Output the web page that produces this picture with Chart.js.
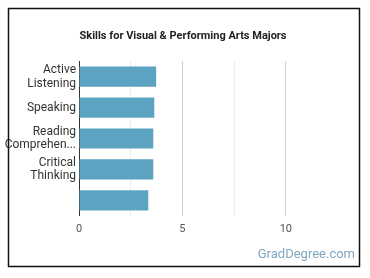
<!DOCTYPE html>
<html>
<head>
<meta charset="utf-8">
<script src="https://cdn.jsdelivr.net/npm/chart.js@4"></script>
<style>
  body { margin: 0; background: #fff; }
  #wrap { width: 370px; height: 278px; position: relative; }
</style>
</head>
<body>
<div id="wrap"><canvas id="myChart" width="370" height="278"></canvas></div>
<script>
const chartTitle = 'Skills for Visual & Performing Arts Majors';
const skillLabels = [['Active', 'Listening'], 'Speaking', ['Reading', 'Comprehen...'], ['Critical', 'Thinking'], ''];
const skillValues = [3.73, 3.64, 3.59, 3.59, 3.35];
const tickValues = [0, 5, 10];

const barColor = '#5ca3c1';

// frame round the whole chart + site name in the corner
const framePlugin = {
  id: 'frame',
  afterDraw(chart) {
    const c = chart.ctx;
    c.save();
    c.strokeStyle = '#111';
    c.lineWidth = 1.5;
    c.strokeRect(8.5, 8.5, 351, 258);
    c.fillStyle = '#7fa7c2';
    c.font = '13px Roboto';
    c.textAlign = 'right';
    c.textBaseline = 'middle';
    c.fillText('GradDegree.com', 355, 255);
    c.restore();
  }
};

const ctx = document.getElementById('myChart').getContext('2d');
const myChart = new Chart(ctx, {
  type: 'bar',
  data: {
    labels: skillLabels,
    datasets: [{
      data: skillValues,
      backgroundColor: barColor,
      borderWidth: 0,
      barPercentage: 0.65,
      categoryPercentage: 1
    }]
  },
  options: {
    indexAxis: 'y',
    responsive: false,
    animation: false,
    layout: { padding: { left: 0, right: 4, top: 0, bottom: 35 } },
    plugins: {
      legend: { display: false },
      tooltip: { enabled: false },
      title: {
        display: true,
        text: chartTitle,
        color: '#222',
        font: { family: 'Roboto', size: 11, weight: 'bold' },
        padding: { top: 30, bottom: 18 }
      }
    },
    scales: {
      x: {
        min: 0,
        max: 13.73,
        border: { display: false },
        grid: {
          drawTicks: false,
          color: (c) => {
            const v = c.tick ? c.tick.value : 0;
            if (v === 0 || v > 10) return 'rgba(0,0,0,0)';
            return tickValues.includes(v) ? '#cfcfcf' : '#ececec';
          }
        },
        ticks: {
          stepSize: 2.5,
          padding: 7,
          color: '#555',
          font: { family: 'Roboto', size: 11 },
          callback: (v) => tickValues.includes(v) ? String(v) : ''
        }
      },
      y: {
        border: { display: true, color: '#333', width: 1 },
        grid: { display: false, drawTicks: false },
        afterFit: (scale) => { scale.width = 79; },
        ticks: {
          autoSkip: false,
          padding: 3,
          color: '#333',
          font: { family: 'Roboto', size: 12, lineHeight: 1.15 }
        }
      }
    }
  },
  plugins: [framePlugin]
});
</script>
</body>
</html>
